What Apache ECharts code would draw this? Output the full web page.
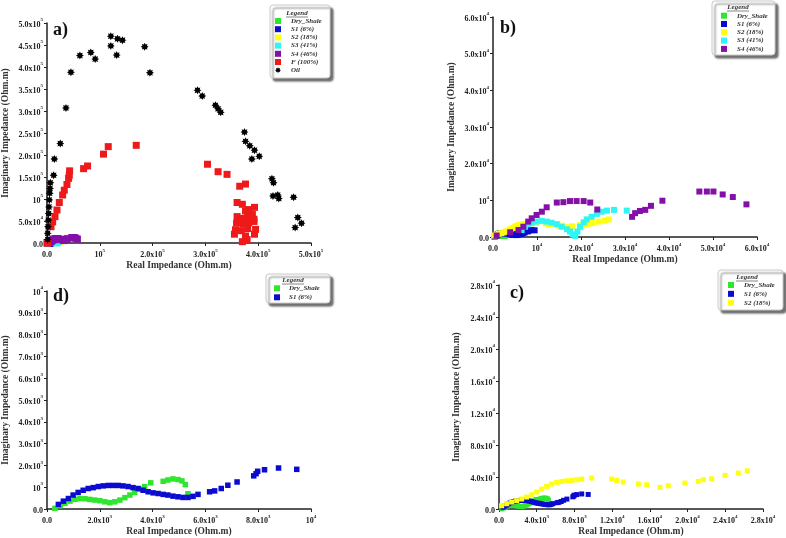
<!DOCTYPE html>
<html><head><meta charset="utf-8">
<script src="https://cdn.jsdelivr.net/npm/echarts@6/dist/echarts.min.js"></script>
<style>html,body{margin:0;padding:0;background:#fff}#c{width:786px;height:538px}</style>
</head><body><div id="c"></div>
<script>
// ---- data: [Real, Imaginary] impedance in Ohm.m ----
const dryShale = [[300,30],[500,150],[680,260],[870,360],[1060,440],[1250,480],[1440,470],[1620,440],[1810,410],[2000,380],[2190,330],[2380,290],[2570,330],[2760,410],[2950,520],[3140,640],[3320,760],[3510,910],[3700,1020],[3930,1200],[4400,1270],[4580,1330],[4770,1380],[4960,1350],[5110,1290],[5240,1120],[5340,700]];
const s1 = [[430,210],[620,360],[810,480],[990,640],[1180,760],[1370,860],[1560,940],[1750,980],[1940,1030],[2130,1060],[2320,1080],[2510,1080],[2700,1080],[2880,1060],[3070,1030],[3260,980],[3450,940],[3640,860],[3830,790],[4020,740],[4210,710],[4400,670],[4580,640],[4770,590],[4960,560],[5150,530],[5340,530],[5530,580],[5720,670],[6160,790],[6350,830],[6600,940],[6850,1090],[7200,1240],[7830,1520],[7920,1620],[7980,1730],[8240,1800],[8770,1880],[9460,1820]];
const s2 = [[280,410],[810,660],[1340,870],[1870,1040],[2400,1250],[2930,1490],[3460,1780],[3990,2120],[4520,2490],[5050,2830],[5580,3120],[6120,3330],[6650,3450],[7180,3530],[7710,3570],[8240,3660],[8770,3740],[9830,3870],[11950,3740],[12480,3570],[13180,3370],[14780,3120],[15660,3030],[17070,2700],[17960,2910],[19720,3240],[21140,3450],[21670,3660],[22550,3780],[23970,4200],[25380,4490],[26330,4780]];
const s3 = [[6500,1900],[7300,2800],[8000,3500],[8800,3900],[9900,4200],[11100,4400],[12200,4200],[13300,3900],[14500,3500],[15600,2800],[16800,2100],[17500,1500],[18100,700],[18700,300],[19200,1500],[19800,2800],[20600,4000],[21300,4800],[22400,5500],[23600,6300],[24700,6900],[25900,7200],[27500,7400],[30400,7200]];
const s4 = [[830,400],[3900,1300],[5800,1900],[6900,2800],[8000,4200],[8800,5100],[9900,6000],[11100,6900],[12200,8100],[14500,9400],[16000,9500],[17500,9800],[19000,9800],[20600,9800],[22100,9400],[23700,7500],[31600,5500],[32300,6500],[33400,7100],[34600,7400],[35900,8500],[38500,9900],[46900,12400],[48600,12400],[50100,12400],[52200,11600],[54500,10900],[57600,8900]];
const f100 = [[1300,0],[7600,37000],[10700,48000],[15100,60000],[18900,75000],[23300,92000],[29600,109000],[32700,120000],[37800,133000],[40900,147000],[42200,154000],[42800,164000],[69300,169000],[76800,175000],[107000,202000],[116000,219000],[169000,222000],[304000,179000],[324000,162000],[341000,156000],[365000,129000],[376000,134000],[360000,92000],[370000,88000],[376000,73000],[382000,76000],[393000,81000],[360000,60000],[370000,56000],[380000,60000],[389000,65000],[392000,54000],[359000,45000],[372000,43000],[382000,46000],[392000,49000],[357000,30000],[368000,28000],[380000,33000],[395000,31000],[355000,20000],[376000,16000],[393000,20000],[370000,3000],[379000,8000]];
const oil = [[120900,470000],[133500,464000],[143000,461000],[120900,448000],[132000,427000],[83000,433000],[91300,418000],[62300,426000],[45300,388000],[35900,307000],[25200,226000],[13900,191000],[12600,154000],[6300,137000],[5700,124000],[5000,113000],[4400,98000],[3800,82000],[3100,67000],[2500,52000],[1900,37000],[1300,22000],[1300,8000],[185000,446000],[195000,387000],[285000,347000],[294000,334000],[319000,313000],[324000,305000],[329000,297000],[374000,252000],[376000,231000],[384000,221000],[393000,211000],[402000,197000],[388000,191000],[426000,146000],[429000,137000],[428000,107000],[437000,109000],[439000,101000],[467000,104000],[475000,58000],[482000,45000],[470000,35000]];

const seriesNames = ['Dry_Shale','S1 (6%)','S2 (18%)','S3 (41%)','S4 (46%)','F (100%)','Oil'];
const seriesData = [dryShale, s1, s2, s3, s4, f100, oil];
const seriesColors = ['#2ee62e','#0a0ad0','#ffff10','#30f5f5','#8410a8','#ee1a1a','#000000'];

// panels: a, b, c, d
const panelLabels = ['a)','b)','c)','d)'];
const panelSeries = [[0,1,2,3,4,5,6],[0,1,2,3,4],[0,1,2],[0,1]];
const xMax = [500000, 60000, 28000, 10000];
const xStep = [100000, 10000, 4000, 2000];
const yMax = [500000, 60000, 28000, 10000];
const yStep = [50000, 10000, 4000, 1000];

const STAR = 'path://M20,10L15.54,12.3L17.07,17.07L12.3,15.54L10,20L7.7,15.54L2.93,17.07L4.46,12.3L0,10L4.46,7.7L2.93,2.93L7.7,4.46L10,0L12.3,4.46L17.07,2.93L15.54,7.7Z';

const grids = [
  {left:46, top:23, width:265, height:220},
  {left:493, top:17, width:264, height:220},
  {left:499, top:285, width:264, height:224},
  {left:46, top:291, width:265, height:220}
];
const symSize = [7, 6, 5, 5.5];

function sci(v){
  if (v === 0) return '{m|0.0}';
  const e = Math.floor(Math.log10(v) + 1e-9);
  const m = v / Math.pow(10, e);
  if (Math.abs(m - 1) < 1e-9) return '{m|10}{e|' + e + '}';
  return '{m|' + m.toFixed(1) + 'x10}{e|' + e + '}';
}
const FONT = 'Liberation Serif';
const richLab = {
  m:{fontFamily:FONT, fontWeight:'bold', fontSize:8, color:'#222', lineHeight:11, verticalAlign:'bottom'},
  e:{fontFamily:FONT, fontWeight:'bold', fontSize:5, color:'#222', lineHeight:6, verticalAlign:'top'}
};
const nameStyle = {fontFamily:FONT, fontWeight:'bold', fontSize:9.5, color:'#333'};
const yNameGap = [36, 36, 37, 36];

const xAxes = [], yAxes = [], series = [], legends = [], graphics = [];
for (let p = 0; p < 4; p++) {
  xAxes.push({type:'value', gridIndex:p, min:0, max:xMax[p], interval:xStep[p],
    name:'Real Impedance (Ohm.m)', nameLocation:'middle', nameGap:18, nameTextStyle:nameStyle,
    axisLine:{show:true, onZero:false, lineStyle:{color:'#222', width:1.5}},
    axisTick:{show:true, length:3, lineStyle:{color:'#222'}},
    splitLine:{show:false},
    axisLabel:{margin:5, formatter:sci, rich:richLab, showMaxLabel:true, showMinLabel:true}});
  yAxes.push({type:'value', gridIndex:p, min:0, max:yMax[p], interval:yStep[p],
    name:'Imaginary Impedance (Ohm.m)', nameLocation:'middle', nameGap:yNameGap[p], nameTextStyle:nameStyle,
    axisLine:{show:true, onZero:false, lineStyle:{color:'#222', width:1.5}},
    axisTick:{show:true, length:3, lineStyle:{color:'#222'}},
    splitLine:{show:false},
    axisLabel:{margin:4, formatter:sci, rich:richLab, showMaxLabel:true, showMinLabel:true}});
  panelSeries[p].forEach(function(si){
    series.push({type:'scatter', name:seriesNames[si], xAxisIndex:p, yAxisIndex:p,
      data:seriesData[si], symbol: si === 6 ? STAR : 'rect',
      symbolSize: si === 6 ? 8 : symSize[p],
      itemStyle:{color:seriesColors[si], opacity:1}, z: 2 + si});
  });
}

// legend boxes
const legBox = [
  {x:270, y:5, w:60, h:73, tx:297, ty:13, il:275, it:17.5, gap:1.2, tp:5},
  {x:712, y:1, w:63, h:54, tx:738, ty:7, il:721, it:12.2, gap:1.3, tp:5},
  {x:718, y:270, w:65, h:40, tx:747, ty:277, il:728, it:281.5, gap:1.85, tp:5},
  {x:266, y:274, w:64, h:29, tx:293, ty:280, il:274, it:284.8, gap:2, tp:4}
];
for (let p = 0; p < 4; p++) {
  const b = legBox[p];
  legends.push({left:b.il, top:b.it, orient:'vertical', padding:0, itemGap:b.gap,
    itemWidth:6, itemHeight:6, z:10,
    data: panelSeries[p].map(function(si){ return {name:seriesNames[si], icon: si === 6 ? STAR : 'rect'}; }),
    textStyle:{fontFamily:FONT, fontStyle:'italic', fontWeight:'bold', fontSize:7, lineHeight:7, color:'#333', padding:[0,0,0,b.tp]}});
  graphics.push({type:'rect', z:1, shape:{x:b.x, y:b.y, width:b.w, height:b.h, r:3},
    style:{fill:'#fff', stroke:'#c8c8c8', lineWidth:1, shadowBlur:2, shadowOffsetX:3, shadowOffsetY:3, shadowColor:'rgba(0,0,0,0.55)'}});
  graphics.push({type:'text', z:11, style:{x:b.tx, y:b.ty, text:'Legend', align:'center', verticalAlign:'middle',
    font:'italic bold 7px "Liberation Serif"', fill:'#333'}});
  graphics.push({type:'line', z:11, shape:{x1:b.tx-11, y1:b.ty+4, x2:b.tx+11, y2:b.ty+4}, style:{stroke:'#333', lineWidth:0.6}});
}
const labPos = [[53,21],[500,19],[510,284],[53,287]];
for (let p = 0; p < 4; p++) {
  graphics.push({type:'text', z:11, style:{x:labPos[p][0], y:labPos[p][1], text:panelLabels[p],
    font:'bold 18px "Liberation Serif"', fill:'#111'}});
}

const chart = echarts.init(document.getElementById('c'));
chart.setOption({
  animation:false,
  backgroundColor:'#fff',
  grid:grids, xAxis:xAxes, yAxis:yAxes, series:series, legend:legends,
  graphic:{elements:graphics}
});
</script></body></html>
